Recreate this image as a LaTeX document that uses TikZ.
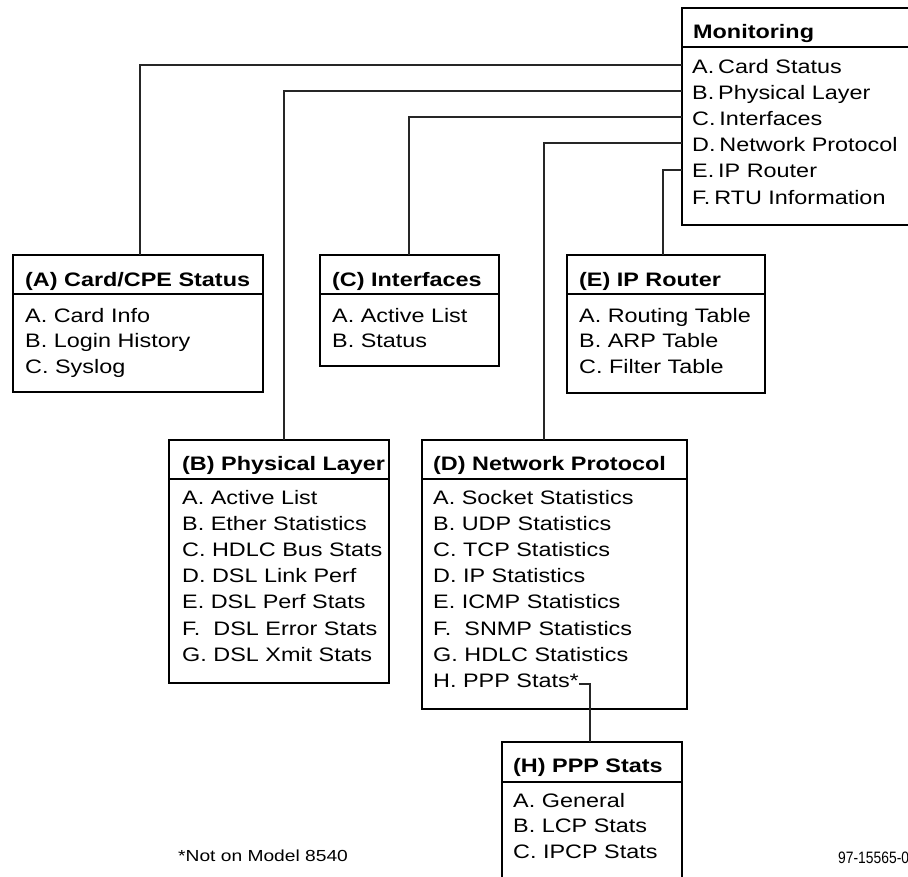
\documentclass[tikz,border=0pt]{standalone}
\usepackage{fontspec}
\setmainfont{Liberation Sans}[FakeStretch=1.2]
\newfontfamily\numfont{Liberation Sans}[FakeStretch=0.84]
\tikzset{
  frame/.style={draw, line width=2.6pt, inner sep=0pt, outer sep=0pt, anchor=north west},
  sepline/.style={line width=1.8pt},
  wire/.style={line width=1.3pt, draw=black!85},
  ttl/.style={font=\fontsize{19.5}{24}\selectfont\bfseries, anchor=base west, inner sep=0pt},
  itm/.style={font=\fontsize{19.5}{24}\selectfont, anchor=base west, inner sep=0pt},
}
\begin{document}
\begin{tikzpicture}[x=1pt,y=-1pt]
\useasboundingbox (0,0) rectangle (908,876);
\clip (0,0) rectangle (908,876);

% Monitoring
\node[frame, minimum width=240pt, minimum height=217pt] (mon) at (682,8) {};
\draw[sepline] (mon.west |- 0,47) -- (mon.east |- 0,47);
\node[ttl] (monT) at (693,38.5) {Monitoring};
\foreach \t [count=\i] in {A.\hspace{0.2em}Card Status, B.\hspace{0.2em}Physical Layer, C.\hspace{0.2em}Interfaces, D.\hspace{0.2em}Network Protocol, E.\hspace{0.2em}IP Router, F.\hspace{0.2em}RTU Information}
  \node[itm] (mon\i) at (692,{73+(\i-1)*26.2}) {\t};

% (A)
\node[frame, minimum width=250pt, minimum height=137pt] (boxA) at (13,255) {};
\draw[sepline] (boxA.west |- 0,294) -- (boxA.east |- 0,294);
\node[ttl] (aT) at (25,286) {(A) Card/CPE Status};
\foreach \t [count=\i] in {A. Card Info, B. Login History, C. Syslog}
  \node[itm] (a\i) at (25,{322+(\i-1)*25.6}) {\t};

% (C)
\node[frame, minimum width=179pt, minimum height=111pt] (boxC) at (320,255) {};
\draw[sepline] (boxC.west |- 0,294) -- (boxC.east |- 0,294);
\node[ttl] (cT) at (332,286) {(C) Interfaces};
\foreach \t [count=\i] in {A. Active List, B. Status}
  \node[itm] (c\i) at (332,{322+(\i-1)*25.6}) {\t};

% (E)
\node[frame, minimum width=198pt, minimum height=138pt] (boxE) at (567,255) {};
\draw[sepline] (boxE.west |- 0,294) -- (boxE.east |- 0,294);
\node[ttl] (eT) at (579,286) {(E) IP Router};
\foreach \t [count=\i] in {A. Routing Table, B. ARP Table, C. Filter Table}
  \node[itm] (e\i) at (579,{322+(\i-1)*25.6}) {\t};

% (B)
\node[frame, minimum width=220pt, minimum height=243pt] (boxB) at (169,440) {};
\draw[sepline] (boxB.west |- 0,479) -- (boxB.east |- 0,479);
\node[ttl] (bT) at (182,470) {(B) Physical Layer};
\foreach \t [count=\i] in {A. Active List, B. Ether Statistics, C. HDLC Bus Stats, D. DSL Link Perf, E. DSL Perf Stats, F.\ \ DSL Error Stats, G. DSL Xmit Stats}
  \node[itm] (b\i) at (182,{504+(\i-1)*26.2}) {\t};

% (D)
\node[frame, minimum width=265pt, minimum height=269pt] (boxD) at (422,440) {};
\draw[sepline] (boxD.west |- 0,479) -- (boxD.east |- 0,479);
\node[ttl] (dT) at (433,470) {(D) Network Protocol};
\foreach \t [count=\i] in {A. Socket Statistics, B. UDP Statistics, C. TCP Statistics, D. IP Statistics, E. ICMP Statistics, F.\ \ SNMP Statistics, G. HDLC Statistics, H. PPP Stats*}
  \node[itm] (d\i) at (433,{504+(\i-1)*26.2}) {\t};

% (H)
\node[frame, minimum width=180pt, minimum height=150pt] (boxH) at (502,742) {};
\draw[sepline] (boxH.west |- 0,782) -- (boxH.east |- 0,782);
\node[ttl] (hT) at (513,772) {(H) PPP Stats};
\foreach \t [count=\i] in {A. General, B. LCP Stats, C. IPCP Stats}
  \node[itm] (h\i) at (513,{807+(\i-1)*25.6}) {\t};

% connectors
\draw[wire] (mon.west |- 0,65)  -| (boxA.north -| 140,0);
\draw[wire] (mon.west |- 0,91)  -| (boxB.north -| 284,0);
\draw[wire] (mon.west |- 0,117) -| (boxC.north -| 409,0);
\draw[wire] (mon.west |- 0,143) -| (boxD.north -| 544,0);
\draw[wire] (mon.west |- 0,170) -| (boxE.north -| 663,0);
\coordinate (hs) at (d8.east |- 0,684);
\draw[wire] (hs) -| (boxH.north -| 590,0);

% notes
\node[anchor=base west, inner sep=0pt, font=\fontsize{16}{18}\selectfont] (note) at (178,861) {*Not on Model 8540};
\node[anchor=base west, inner sep=0pt, font=\numfont\fontsize{16.5}{18}\selectfont] (fig) at (838,863) {97-15565-0};
\end{tikzpicture}
\end{document}
